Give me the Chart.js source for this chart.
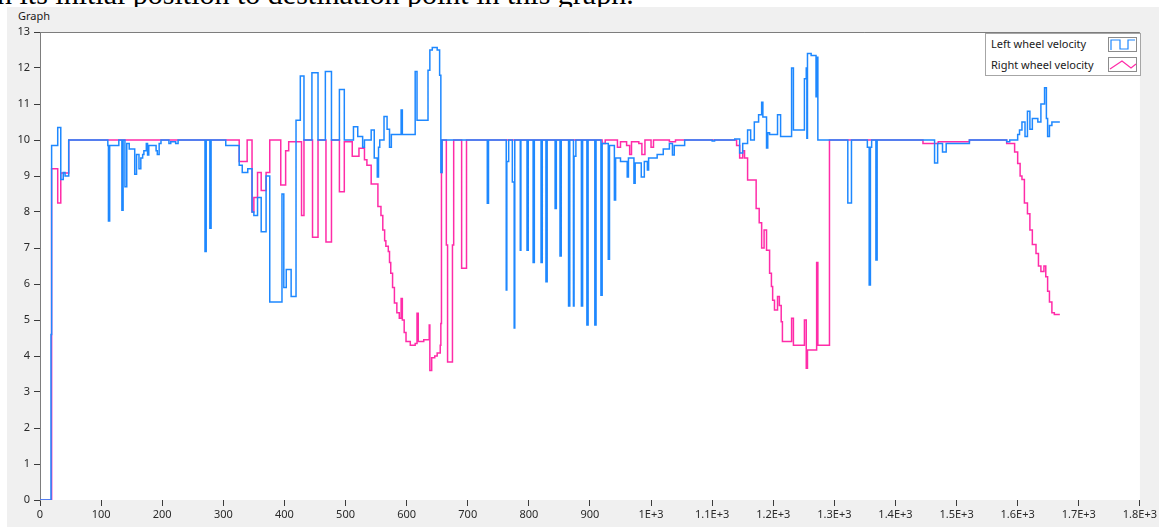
<!DOCTYPE html>
<html>
<head>
<meta charset="utf-8">
<script src="https://cdn.jsdelivr.net/npm/chart.js@4.4.1/dist/chart.umd.min.js"></script>
<style>
  html, body { margin: 0; padding: 0; background: #ffffff; }
  body { width: 1159px; height: 527px; overflow: hidden; position: relative; }
  .doc-line {
    position: absolute; left: -3px; top: -21px; white-space: nowrap;
    font-family: "Liberation Serif", "Times New Roman", serif; font-size: 30px; line-height: 30px; color: #000;
  }
  .panel { position: absolute; left: 7px; top: 7px; right: 0; bottom: 0; background: #f0f0f0; }
  .title { position: absolute; left: 18px; top: 8px; font: 11px "Noto Sans", sans-serif; color: #1a1a1a; }
  #chart { position: absolute; left: 0; top: 0; }
  .legend {
    position: absolute; left: 985px; top: 33px; width: 156px; height: 43px;
    background: #ffffff; border: 1px solid #a6a6a6; box-sizing: border-box;
    font: 11px "Noto Sans", sans-serif; color: #1a1a1a;
  }
  .legend .row { position: absolute; left: 5px; height: 16px; line-height: 16px; }
  .legend .icon { position: absolute; left: 122px; width: 29px; height: 15px; }
</style>
</head>
<body>
<div class="doc-line">n its initial position to destination point in this graph.</div>
<div class="panel"></div>
<div class="title">Graph</div>
<canvas id="chart" width="1159" height="527"></canvas>
<div class="legend">
  <div class="row" style="top:2px">Left wheel velocity</div>
  <svg class="icon" style="top:3px" viewBox="0 0 29 15">
    <rect x="0.5" y="0.5" width="28" height="14" fill="#fff" stroke="#8c8c8c"/>
    <path d="M3 13 V3 H12 V12 H20 V3 H27" fill="none" stroke="#1e88ff" stroke-width="1.2"/>
  </svg>
  <div class="row" style="top:23px">Right wheel velocity</div>
  <svg class="icon" style="top:23px" viewBox="0 0 29 15">
    <rect x="0.5" y="0.5" width="28" height="14" fill="#fff" stroke="#8c8c8c"/>
    <path d="M2 12 L14 4 L23 11 L28 7" fill="none" stroke="#ff2ca8" stroke-width="1.2"/>
  </svg>
</div>
<script>
// Left wheel velocity: sample index / value pairs (held until next sample)
const leftX = [0, 18, 19, 29, 34, 38, 41, 47, 111, 112, 114, 129, 134, 136, 139, 142, 146, 155, 158, 162,
  165, 168, 170, 174, 176, 178, 190, 192, 195, 198, 211, 214, 222, 226, 270, 272, 278, 280, 304, 326,
  331, 340, 347, 350, 356, 362, 370, 376, 396, 399, 403, 411, 419, 426, 432, 445, 455, 467, 477, 490,
  498, 513, 520, 528, 531, 542, 547, 552, 554, 556, 563, 568, 572, 575, 591, 593, 614, 617, 635, 638,
  642, 650, 654, 656, 658, 732, 734, 763, 764, 767, 773, 776, 777, 786, 787, 797, 799, 807, 809, 820,
  822, 828, 830, 843, 845, 851, 853, 865, 867, 873, 874, 877, 886, 888, 895, 897, 908, 910, 918, 920,
  930, 932, 940, 942, 950, 961, 963, 972, 974, 984, 989, 994, 996, 1010, 1020, 1030, 1035, 1038, 1055, 1100,
  1104, 1137, 1145, 1150, 1158, 1163, 1169, 1176, 1181, 1183, 1189, 1191, 1194, 1207, 1212, 1230, 1233, 1251, 1254, 1255,
  1256, 1262, 1270, 1271, 1273, 1322, 1328, 1354, 1357, 1359, 1361, 1368, 1370, 1464, 1469, 1477, 1483, 1521, 1582, 1587,
  1600, 1603, 1607, 1612, 1616, 1620, 1624, 1633, 1638, 1644, 1647, 1649, 1652, 1656, 1669];
const leftY = [0, 4.6, 9.85, 10.35, 8.9, 9.1, 9.0, 10, 9.85, 7.75, 9.85, 10, 8.05, 10, 8.7, 9.9, 9.75, 9.05, 9.6, 9.2,
  9.5, 9.6, 9.7, 9.9, 9.58, 9.85, 9.7, 9.6, 9.9, 10, 9.9, 9.95, 9.9, 10, 6.9, 10, 7.55, 10, 9.85, 9.3,
  9.1, 9.2, 8.0, 7.9, 8.4, 7.45, 9.0, 5.5, 8.5, 5.9, 6.4, 5.65, 10.55, 11.78, 10, 11.87, 10, 11.9, 10, 11.4,
  10, 10.37, 10.1, 9.8, 10, 10.28, 9.5, 8.97, 9.8, 10, 10.65, 10.3, 9.8, 10.15, 10.83, 10.15, 11.9, 10.55, 11.94, 12.5,
  12.57, 12.5, 11.8, 9.1, 10, 8.24, 10, 5.83, 9.4, 10, 8.83, 4.78, 10, 6.94, 10, 6.94, 10, 6.6, 10, 6.6,
  10, 6.06, 10, 8.1, 10, 6.78, 10, 5.39, 10, 5.39, 9.55, 10, 5.39, 10, 4.86, 10, 4.86, 10, 5.69, 9.9,
  6.69, 9.85, 8.33, 9.5, 9.4, 8.97, 9.5, 8.8, 9.36, 8.97, 9.4, 9.17, 9.5, 9.6, 9.75, 9.9, 9.58, 9.85, 10, 9.97,
  10, 10.03, 9.64, 9.9, 10.28, 10.0, 10.5, 10.7, 11.05, 10.64, 9.78, 10.2, 10.15, 10.7, 10.1, 12.0, 10.28, 11.7, 12.0, 10.05,
  12.4, 12.35, 11.2, 12.3, 10, 8.25, 10, 9.8, 5.97, 9.8, 10, 6.67, 10, 9.36, 9.9, 9.67, 9.9, 10, 9.95, 10,
  10.15, 10.28, 10.5, 10.1, 10.8, 10.3, 10.6, 10.5, 11.0, 11.45, 10.6, 10.1, 10.4, 10.5, 10.5];

// Right wheel velocity
const rightX = [0, 19, 29, 34, 47, 326, 339, 347, 350, 356, 362, 370, 376, 394, 402, 407, 428, 432, 446, 455,
  468, 477, 490, 498, 511, 522, 531, 535, 542, 553, 558, 561, 564, 566, 570, 572, 574, 577, 580, 584,
  588, 591, 593, 596, 599, 606, 614, 617, 619, 628, 637, 638, 641, 646, 650, 655, 656, 657, 658, 665,
  667, 675, 677, 690, 698, 920, 925, 945, 950, 960, 965, 968, 980, 985, 990, 1000, 1004, 1030, 1040, 1140,
  1145, 1150, 1153, 1158, 1172, 1177, 1181, 1185, 1189, 1194, 1197, 1199, 1202, 1207, 1210, 1213, 1215, 1230, 1233, 1251,
  1254, 1256, 1271, 1273, 1292, 1445, 1470, 1490, 1521, 1582, 1595, 1600, 1604, 1607, 1611, 1616, 1620, 1624, 1630, 1634,
  1638, 1643, 1646, 1649, 1652, 1656, 1660, 1669];
const rightY = [0, 9.2, 8.25, 9.08, 10, 9.4, 10, 8.0, 8.4, 9.1, 8.6, 9.1, 10, 8.75, 9.7, 9.95, 7.9, 10, 7.3, 10,
  7.17, 10, 8.56, 9.95, 9.55, 9.77, 9.45, 9.3, 8.78, 8.15, 7.9, 7.5, 7.2, 7.05, 6.9, 6.6, 6.3, 5.9, 5.47, 5.2,
  5.05, 5.6, 5.0, 4.65, 4.4, 4.3, 4.35, 5.19, 4.4, 4.45, 4.86, 3.6, 3.95, 4.0, 4.08, 4.3, 4.9, 9.1, 10, 7.08,
  3.83, 7.08, 10, 6.44, 10, 9.9, 10, 9.8, 9.95, 9.85, 9.6, 9.95, 9.9, 9.6, 10, 9.8, 10, 9.95, 10, 9.85,
  9.5, 9.7, 9.5, 8.89, 8.1, 7.7, 7.0, 7.5, 6.94, 6.3, 5.93, 5.55, 5.28, 5.65, 5.4, 4.95, 4.4, 5.05, 4.3, 5.0,
  3.66, 4.17, 6.6, 4.3, 10, 9.9, 9.95, 9.95, 10, 9.9, 9.67, 9.35, 9.0, 8.9, 8.25, 7.95, 7.5, 7.1, 6.85, 6.5,
  6.35, 6.5, 6.2, 5.8, 5.5, 5.2, 5.15, 5.15];

// Axis tick values and their labels
const xTickValues = [0, 100, 200, 300, 400, 500, 600, 700, 800, 900, 1000, 1100, 1200, 1300, 1400, 1500, 1600, 1700, 1800];
const xTickLabels = ['0', '100', '200', '300', '400', '500', '600', '700', '800', '900',
  '1E+3', '1.1E+3', '1.2E+3', '1.3E+3', '1.4E+3', '1.5E+3', '1.6E+3', '1.7E+3', '1.8E+3'];
const yTickLabels = ['0', '1', '2', '3', '4', '5', '6', '7', '8', '9', '10', '11', '12', '13'];

const toPoints = (xs, ys) => xs.map((x, i) => ({ x: x, y: ys[i] }));

// White plot surface with dark top frame line
const plotFrame = {
  id: 'plotFrame',
  beforeDraw(chart) {
    const a = chart.chartArea, c = chart.ctx;
    c.save();
    c.fillStyle = '#ffffff';
    c.fillRect(a.left, a.top, a.right - a.left, a.bottom - a.top);
    c.restore();
  },
  beforeDatasetsDraw(chart) {
    const a = chart.chartArea, c = chart.ctx;
    c.save();
    c.strokeStyle = '#7d7d7d';
    c.lineWidth = 1;
    c.beginPath();
    c.moveTo(a.left, a.top + 0.5);
    c.lineTo(a.right, a.top + 0.5);
    c.stroke();
    c.restore();
  }
};

const tickFont = { family: '"Noto Sans", sans-serif', size: 11 };

new Chart(document.getElementById('chart'), {
  type: 'line',
  data: {
    datasets: [
      {
        label: 'Left wheel velocity',
        data: toPoints(leftX, leftY),
        borderColor: '#1e88ff',
        borderWidth: 1.5,
        stepped: 'before',
        pointRadius: 0,
        fill: false
      },
      {
        label: 'Right wheel velocity',
        data: toPoints(rightX, rightY),
        borderColor: '#ff2ca8',
        borderWidth: 1.5,
        stepped: 'before',
        pointRadius: 0,
        fill: false
      }
    ]
  },
  options: {
    responsive: false,
    animation: false,
    devicePixelRatio: 1,
    layout: { autoPadding: false, padding: { left: 0, top: 32, right: 19, bottom: 0 } },
    plugins: { legend: { display: false }, tooltip: { enabled: false } },
    scales: {
      x: {
        type: 'linear',
        min: 0,
        max: 1800,
        afterFit(s) { s.height = 27; },
        afterBuildTicks(s) { s.ticks = xTickValues.map(v => ({ value: v })); },
        ticks: {
          autoSkip: false,
          maxRotation: 0,
          padding: 2,
          color: '#2a2a2a',
          font: tickFont,
          callback: (v) => xTickLabels[xTickValues.indexOf(v)]
        },
        grid: { drawOnChartArea: false, drawTicks: true, tickLength: 6, color: '#3a3a3a' },
        border: { display: false }
      },
      y: {
        min: 0,
        max: 13,
        afterFit(s) { s.width = 40; },
        ticks: {
          stepSize: 1,
          padding: 4,
          color: '#2a2a2a',
          font: tickFont,
          callback: (v) => yTickLabels[v]
        },
        grid: { drawOnChartArea: false, drawTicks: true, tickLength: 6, color: '#3a3a3a' },
        border: { display: true, color: '#7d7d7d', width: 1 }
      }
    }
  },
  plugins: [plotFrame]
});
</script>
</body>
</html>
